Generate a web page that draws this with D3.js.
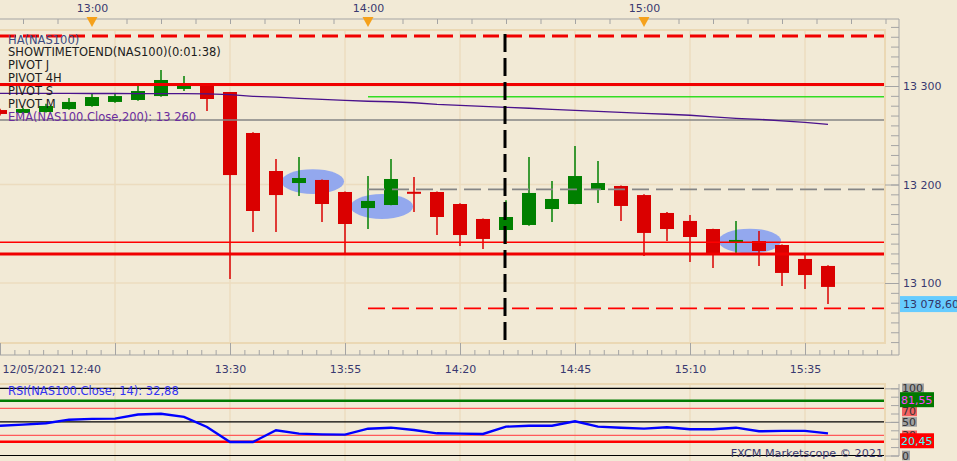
<!DOCTYPE html>
<html>
<head>
<meta charset="utf-8">
<script src="https://d3js.org/d3.v7.min.js"></script>
<style>
  body { margin: 0; background: #f2ead6; }
  svg { display: block; font-family: "DejaVu Sans", Verdana, sans-serif; }
</style>
</head>
<body>
<div id="container"></div>
<script>
var width = 957, height = 461;

// NAS100, 5 minute Heikin-Ashi candles, 12/05/2021
var times = ["12:40","12:45","12:50","12:55","13:00","13:05","13:10","13:15","13:20","13:25",
             "13:30","13:35","13:40","13:45","13:50","13:55","14:00","14:05","14:10","14:15",
             "14:20","14:25","14:30","14:35","14:40","14:45","14:50","14:55","15:00","15:05",
             "15:10","15:15","15:20","15:25","15:30","15:35","15:40"];
var open  = [13275.6,13272.6,13273.6,13276.6,13279.7,13283.8,13285.8,13289.8,13297.0,13301.0,
             13293.9,13252.3,13213.7,13201.5,13204.6,13192.4,13176.1,13179.2,13192.6,13192.4,
             13180.2,13165.0,13153.8,13158.9,13175.1,13180.2,13194.4,13198.5,13189.3,13171.1,
             13163.0,13154.8,13141.6,13142.6,13138.6,13124.4,13117.3];
var high  = [13277.0,13278.0,13282.0,13287.8,13292.9,13292.9,13300.0,13316.2,13310.2,13301.5,
             13294.0,13253.0,13225.9,13227.9,13205.0,13193.0,13208.6,13225.9,13207.6,13193.0,
             13181.0,13165.5,13184.0,13227.9,13203.6,13239.1,13223.9,13199.0,13190.0,13172.1,
             13169.0,13155.0,13163.0,13152.8,13139.0,13129.4,13118.0];
var low   = [13270.0,13272.0,13273.0,13276.0,13279.0,13283.0,13285.0,13289.0,13294.9,13274.6,
             13104.1,13151.8,13151.8,13188.3,13162.0,13130.5,13154.8,13179.0,13172.1,13148.7,
             13137.6,13134.5,13139.6,13158.0,13162.0,13180.0,13181.2,13163.0,13127.4,13142.6,
             13121.3,13115.2,13130.5,13117.3,13097.0,13093.9,13078.7];
var close = [13271.6,13276.6,13279.7,13283.8,13288.8,13289.8,13294.9,13306.1,13301.0,13286.8,
             13209.6,13173.1,13189.3,13206.6,13180.2,13159.9,13183.3,13205.6,13192.2,13167.0,
             13148.7,13144.7,13167.0,13191.4,13185.3,13208.6,13201.5,13178.2,13150.8,13154.8,
             13146.7,13129.4,13143.7,13132.5,13110.2,13108.1,13096.0];
var ema200 = [13292.6,13292.6,13292.5,13292.5,13292.4,13292.4,13292.3,13292.3,13292.2,13292.0,
              13291.3,13289.5,13288.8,13287.5,13286.5,13285.5,13284.5,13284.0,13283.0,13281.4,
              13280.4,13279.4,13278.4,13277.4,13276.3,13275.3,13274.3,13273.3,13272.3,13271.3,
              13270.3,13268.7,13267.2,13266.2,13264.6,13263.1,13261.1];
var rsi14 = [44.3,46.0,48.0,53.3,54.5,54.8,61.0,62.2,57.5,42.5,
             20.1,20.1,37.5,32.5,31.5,31.0,39.9,41.4,38.0,33.0,
             32.5,32.0,42.9,44.3,44.3,50.9,42.9,41.4,40.0,42.0,
             39.0,39.0,41.4,36.0,36.7,36.7,32.9];

// pivot / indicator levels
var redDashTop = [13350.8];
var redThick = [13301.5, 13129.5];
var redThin = [13141.3];
var grayLevel = [13265.5];
var sessionStart = "14:00";
var greenLevel = [13289.2];
var grayDashLevel = [13195.1];
var redDashLow = [13074.3];
var nowTime = "14:30";
var lastPrice = 13078.6;

// highlighted zones
var zoneTimes = ["13:48", "14:03", "15:23"];
var zonePrices = [13203.0, 13177.7, 13142.6];
var zoneHalfMinutes = 6.8;
var zoneHalfPoints = 12.6;

var priceTicks = [13100, 13200, 13300];
var topLabels = ["13:00", "14:00", "15:00"];
var bottomLabels = ["12/05/2021 12:40", "", "13:30", "13:55", "14:20", "14:45", "15:10", "15:35"];

var rsiLevelsBlack = [100, 50, 0];
var rsiLevelsPink = [70, 30];
var rsiUpper = 81.55, rsiLower = 20.45;
var rsiBoxValues = [100, 70, 50, 30, 0];

var legendLines = ["HA(NAS100)", "SHOWTIMETOEND(NAS100)(0:01:38)", "PIVOT J", "PIVOT 4H", "PIVOT S", "PIVOT M"];

function parseT(s) {
  var p = s.split(":");
  return new Date(2021, 4, 12, +p[0], +p[1]);
}
function fmtNum(v, dec) {
  return d3.format(",." + dec + "f")(v).replace(/,/g, " ").replace(".", ",");
}

var x = d3.scaleTime().domain([parseT("12:40"), parseT("15:55")]).range([0, 897]);
var y = d3.scaleLinear().domain([13100, 13300]).range([283, 86]);
var ry = d3.scaleLinear().domain([0, 100]).range([455.5, 388.3]);

var green = "#008000", red = "#da0000", navy = "#393970", axisGray = "#a4a4a4", gridTan = "#ecdcbf";
var plotRight = 884, axisX = 899;

var svg = d3.select("#container").append("svg")
    .attr("width", width).attr("height", height);

svg.append("rect").attr("width", width).attr("height", height).attr("fill", "#f2ead6");

var defs = svg.append("defs");
defs.append("clipPath").attr("id", "clipPrice").append("rect")
    .attr("x", 0).attr("y", 30).attr("width", plotRight).attr("height", 313);
defs.append("clipPath").attr("id", "clipRsi").append("rect")
    .attr("x", 0).attr("y", 384).attr("width", plotRight).attr("height", 77);

var start = parseT("12:40");
var majorTimes = d3.range(0, 8).map(function(k) { return new Date(+start + k * 25 * 60000); });
var bottomMinor = d3.range(0, 63).map(function(k) { return new Date(+start + k * 187500); });
var topMinor = d3.range(0, 26).map(function(k) { return new Date(+parseT("12:45") + k * 450000); });

// grid
var grid = svg.append("g").attr("stroke", gridTan).attr("stroke-width", 1.5);
grid.selectAll("line.vp").data(majorTimes.slice(1)).join("line")
    .attr("x1", function(d) { return x(d); }).attr("x2", function(d) { return x(d); })
    .attr("y1", 30).attr("y2", 343);
grid.selectAll("line.vr").data(majorTimes.slice(1)).join("line").attr("class", "vr")
    .attr("x1", function(d) { return x(d); }).attr("x2", function(d) { return x(d); })
    .attr("y1", 384).attr("y2", 461);
grid.selectAll("line.h").data(priceTicks).join("line").attr("class", "h")
    .attr("x1", 0).attr("x2", plotRight)
    .attr("y1", function(d) { return y(d); }).attr("y2", function(d) { return y(d); });

// panel borders
svg.append("path").attr("fill", "none").attr("stroke", "#ebd8b4").attr("stroke-width", 2)
    .attr("d", "M0,30H885V343H0");
svg.append("path").attr("fill", "none").attr("stroke", "#ebd8b4").attr("stroke-width", 2)
    .attr("d", "M0,384H885V461");

// price panel
var plot = svg.append("g").attr("clip-path", "url(#clipPrice)");

plot.selectAll("ellipse").data(zoneTimes).join("ellipse")
    .attr("cx", function(d) { return x(parseT(d)); })
    .attr("cy", function(d, i) { return y(zonePrices[i]); })
    .attr("rx", function(d) { return x(new Date(+parseT(d) + zoneHalfMinutes * 60000)) - x(parseT(d)); })
    .attr("ry", function(d, i) { return y(zonePrices[i] - zoneHalfPoints) - y(zonePrices[i]); })
    .attr("fill", "#93a8ee");

var candles = times.map(function(t, i) {
  return { t: parseT(t), o: open[i], h: high[i], l: low[i], c: close[i] };
});
var cw = 14;
plot.selectAll("line.wick").data(candles).join("line").attr("class", "wick")
    .attr("x1", function(d) { return x(d.t); }).attr("x2", function(d) { return x(d.t); })
    .attr("y1", function(d) { return y(d.h); }).attr("y2", function(d) { return y(d.l); })
    .attr("stroke", function(d) { return d.c >= d.o ? green : red; })
    .attr("stroke-width", 1.5);
plot.selectAll("rect.body").data(candles).join("rect").attr("class", "body")
    .attr("x", function(d) { return x(d.t) - cw / 2; })
    .attr("width", cw)
    .attr("y", function(d) { return y(Math.max(d.o, d.c)); })
    .attr("height", function(d) { return Math.max(2, Math.abs(y(d.o) - y(d.c))); })
    .attr("fill", function(d) { return d.c >= d.o ? green : red; });

function hLines(values, x0, color, w, dash) {
  plot.selectAll(null).data(values).join("line")
      .attr("x1", x0).attr("x2", plotRight)
      .attr("y1", function(d) { return y(d); }).attr("y2", function(d) { return y(d); })
      .attr("stroke", color).attr("stroke-width", w)
      .attr("stroke-dasharray", dash || null);
}
var xs = x(parseT(sessionStart));
hLines(grayLevel, 0, "#858585", 1.3);
hLines(redThin, 0, "#ff0000", 1.5);
hLines(redThick, 0, "#f00000", 3);
hLines(redDashTop, 0, "#f00000", 3, "16,7");
hLines(greenLevel, xs, "#33dd22", 1.5);
hLines(grayDashLevel, xs, "#858585", 1.7, "17,7");
hLines(redDashLow, xs, "#ff0000", 1.7, "17,7");

plot.append("path").datum(ema200)
    .attr("fill", "none").attr("stroke", "#4a128c").attr("stroke-width", 1.3)
    .attr("d", d3.line().x(function(d, i) { return x(parseT(times[i])); }).y(function(d) { return y(d); }));

svg.append("line")
    .attr("x1", x(parseT(nowTime)) - 1).attr("x2", x(parseT(nowTime)) - 1)
    .attr("y1", 34).attr("y2", 341)
    .attr("stroke", "#000").attr("stroke-width", 3).attr("stroke-dasharray", "18,6");

// legend
var legend = svg.append("g").attr("font-size", 11.5);
legend.selectAll("text").data(legendLines).join("text")
    .attr("x", 8).attr("y", function(d, i) { return 43.5 + i * 12.9; })
    .attr("fill", function(d, i) { return i === 0 ? "#3d4a80" : "#1c1c1c"; })
    .text(function(d) { return d; });
legend.append("text").attr("x", 8).attr("y", 43.5 + 6 * 12.9)
    .attr("fill", "#6b2d9e")
    .text("EMA(NAS100.Close,200): " + fmtNum(ema200[ema200.length - 1], 0).replace("13 261", "13 260"));

// top axis
svg.append("line").attr("x1", 0).attr("x2", axisX).attr("y1", 19).attr("y2", 19).attr("stroke", axisGray);
var topAxis = svg.append("g").attr("transform", "translate(0,19)")
    .call(d3.axisTop(x).tickValues(topMinor).tickSizeInner(-5).tickSizeOuter(0).tickFormat(""));
topAxis.select(".domain").remove();
topAxis.selectAll("line").attr("stroke", axisGray);
var topLab = svg.append("g").attr("transform", "translate(0,19)")
    .call(d3.axisTop(x).tickValues(topLabels.map(parseT)).tickSize(0).tickPadding(7)
      .tickFormat(function(d, i) { return topLabels[i]; }));
topLab.select(".domain").remove();
topLab.attr("font-size", 11).attr("font-family", null);
topLab.selectAll("text").attr("fill", navy);
svg.selectAll("path.tri").data(topLabels).join("path").attr("class", "tri")
    .attr("d", function(d) { var cx = x(parseT(d)); return "M" + (cx - 5.5) + ",17H" + (cx + 5.5) + "L" + cx + ",27Z"; })
    .attr("fill", "#f5a11c");

// right price axis
svg.append("line").attr("x1", axisX).attr("x2", axisX).attr("y1", 19).attr("y2", 355).attr("stroke", axisGray);
var pMinor = svg.append("g").attr("transform", "translate(" + axisX + ",0)")
    .call(d3.axisRight(y).tickValues(d3.range(13040, 13361, 10)).tickSizeInner(-8).tickSizeOuter(0).tickFormat(""));
pMinor.select(".domain").remove();
pMinor.selectAll("line").attr("stroke", axisGray);
var pAxis = svg.append("g").attr("transform", "translate(" + axisX + ",0)")
    .call(d3.axisRight(y).tickValues(priceTicks).tickSizeInner(-14).tickSizeOuter(0).tickPadding(4)
      .tickFormat(function(d) { return fmtNum(d, 0); }));
pAxis.select(".domain").remove();
pAxis.attr("font-size", 11).attr("font-family", null);
pAxis.selectAll("line").attr("stroke", axisGray);
pAxis.selectAll("text").attr("fill", navy);

svg.append("rect").attr("x", 900).attr("y", y(lastPrice) - 8).attr("width", 57).attr("height", 16).attr("fill", "#66ccff");
svg.append("text").attr("x", 903).attr("y", y(lastPrice) + 4).attr("font-size", 11).attr("fill", "#333366")
    .text(fmtNum(lastPrice, 2));

// bottom time axis
svg.append("line").attr("x1", 0).attr("x2", axisX).attr("y1", 355).attr("y2", 355).attr("stroke", axisGray);
var bMinor = svg.append("g").attr("transform", "translate(0,355)")
    .call(d3.axisBottom(x).tickValues(bottomMinor).tickSizeInner(-5).tickSizeOuter(0).tickFormat(""));
bMinor.select(".domain").remove();
bMinor.selectAll("line").attr("stroke", axisGray);
var bAxis = svg.append("g").attr("transform", "translate(0,355)")
    .call(d3.axisBottom(x).tickValues(majorTimes).tickSizeInner(-12).tickSizeOuter(0).tickPadding(10)
      .tickFormat(function(d, i) { return bottomLabels[i]; }));
bAxis.select(".domain").remove();
bAxis.attr("font-size", 11).attr("font-family", null);
bAxis.selectAll("line").attr("stroke", axisGray);
bAxis.selectAll("text").attr("fill", navy)
    .attr("text-anchor", function(d, i) { return i === 0 ? "start" : "middle"; })
    .attr("x", function(d, i) { return i === 0 ? 2 : 0; });

// RSI panel
var rsiG = svg.append("g").attr("clip-path", "url(#clipRsi)");
function rLines(values, color, w) {
  rsiG.selectAll(null).data(values).join("line")
      .attr("x1", 0).attr("x2", plotRight)
      .attr("y1", function(d) { return ry(d); }).attr("y2", function(d) { return ry(d); })
      .attr("stroke", color).attr("stroke-width", w);
}
rLines(rsiLevelsBlack, "#000", 1.2);
rLines(rsiLevelsPink, "#ff5a5a", 1.2);
rLines([rsiUpper], "#007a00", 2.6);
rLines([rsiLower], "#ff0000", 2.6);
rsiG.append("path").datum(rsi14)
    .attr("fill", "none").attr("stroke", "#0000ff").attr("stroke-width", 2.4)
    .attr("d", d3.line().x(function(d, i) { return x(parseT(times[i])); }).y(function(d) { return ry(d); }));

svg.append("text").attr("x", 8).attr("y", 395).attr("font-size", 11.5).attr("fill", "#3434f0")
    .text("RSI(NAS100.Close, 14): " + fmtNum(32.88, 2));
svg.append("text").attr("x", 883).attr("y", 457).attr("font-size", 11.2).attr("fill", navy)
    .attr("text-anchor", "end").text("FXCM Marketscope \u00a9 2021");

// RSI right axis
svg.append("line").attr("x1", axisX).attr("x2", axisX).attr("y1", 384).attr("y2", 456).attr("stroke", axisGray);
var rMinor = svg.append("g").attr("transform", "translate(" + axisX + ",0)")
    .call(d3.axisRight(ry).tickValues(d3.range(0, 100.1, 12.5)).tickSizeInner(-8).tickSizeOuter(0).tickFormat(""));
rMinor.select(".domain").remove();
rMinor.selectAll("line").attr("stroke", axisGray);
var rMajor = svg.append("g").attr("transform", "translate(" + axisX + ",0)")
    .call(d3.axisRight(ry).tickValues(rsiLevelsBlack).tickSizeInner(-14).tickSizeOuter(0).tickFormat(""));
rMajor.select(".domain").remove();
rMajor.selectAll("line").attr("stroke", axisGray);

var boxes = svg.append("g").attr("font-size", 11);
rsiBoxValues.forEach(function(v) {
  var pink = rsiLevelsPink.indexOf(v) >= 0;
  var label = String(v);
  var yc = ry(v) + (v === 70 ? 3 : 0);
  var w = label.length * 7 + 1;
  boxes.append("rect").attr("x", 902).attr("y", yc - 4.8).attr("width", w).attr("height", 9.6)
      .attr("fill", pink ? "#f26464" : "#a2a2a2");
  boxes.append("text").attr("x", 902).attr("y", yc + 4).attr("fill", "#333").text(label);
});
[[rsiUpper, "#007800", "#ff40ff"], [rsiLower, "#ff0000", "#40ffff"]].forEach(function(p) {
  var yc = ry(p[0]) - 1;
  boxes.append("rect").attr("x", 900).attr("y", yc - 7.5).attr("width", 34).attr("height", 15).attr("fill", p[1]);
  boxes.append("text").attr("x", 901).attr("y", yc + 4.5).attr("fill", p[2]).text(fmtNum(p[0], 2));
});
</script>
</body>
</html>
